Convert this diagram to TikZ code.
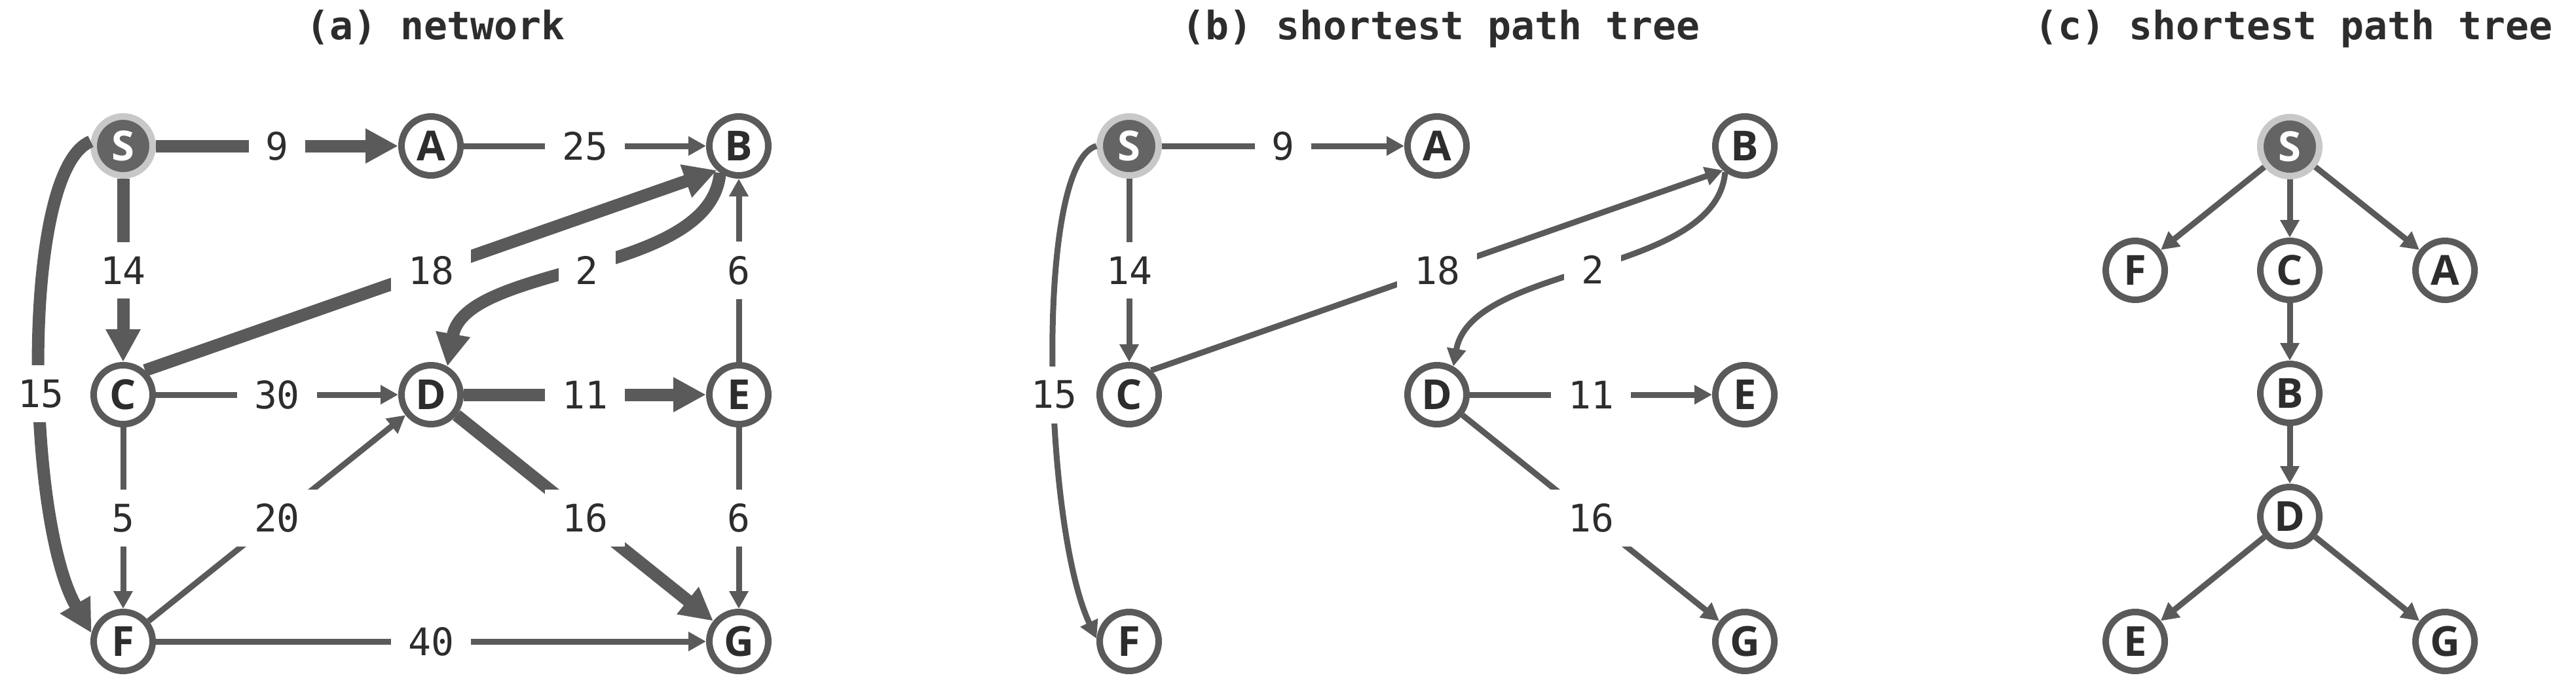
\documentclass[tikz,border=0pt]{standalone}
\usepackage{fontspec}
\usetikzlibrary{arrows.meta}
\newfontfamily\monofont{DejaVu Sans Mono}
\newfontfamily\letterfont{Open Sans}
\definecolor{edgegray}{RGB}{90,90,90}
\definecolor{ringgray}{RGB}{200,200,200}
\definecolor{srcgray}{RGB}{100,100,100}
\definecolor{inkgray}{RGB}{45,45,45}
\newcommand{\wfont}{\monofont\fontsize{16.5}{18}\selectfont}
\newcommand{\tfont}{\monofont\bfseries\fontsize{17}{20}\selectfont}
\newcommand{\vfont}{\letterfont\bfseries\fontsize{18}{20}\selectfont}

\begin{document}
\begin{tikzpicture}[
    vertex/.style={circle, draw=edgegray, line width=1mm, fill=white, minimum size=9mm, inner sep=0pt, font=\vfont, text=inkgray},
    source/.style={vertex, draw=ringgray, fill=srcgray, text=white},
    link/.style={edgegray, line width=0.9mm, -{Triangle[length=2.7mm, width=2.8mm]}},
    treelink/.style={edgegray, line width=1.9mm, -{Triangle[length=5mm, width=5mm]}},
    weight/.style={fill=white, inner xsep=2.6mm, inner ysep=2.2mm, font=\wfont, text=inkgray},
    caption/.style={font=\tfont, text=inkgray, anchor=base}
]
    \useasboundingbox (0,0) rectangle (39.33,-10.45);

    % Titles
    \node[caption] (ta) at (6.65,-0.60) {(a) network};
    \node[caption] (tb) at (22.00,-0.60) {(b) shortest path tree};
    \node[caption] (tc) at (35.02,-0.60) {(c) shortest path tree};

    % (a) the network
    \node[source] (S) at (1.88,-2.23) {S};
    \node[vertex] (A) at (6.58,-2.23) {A};
    \node[vertex] (B) at (11.28,-2.23) {B};
    \node[vertex] (C) at (1.88,-6.03) {C};
    \node[vertex] (D) at (6.58,-6.03) {D};
    \node[vertex] (E) at (11.28,-6.03) {E};
    \node[vertex] (F) at (1.88,-9.80) {F};
    \node[vertex] (G) at (11.28,-9.80) {G};

    \draw[treelink] (S) -- (A) node[weight, midway] {9};
    \draw[link] (A) -- (B) node[weight, midway] {25};
    \draw[treelink] (S) -- (C) node[weight, midway] {14};
    \draw[treelink] (B.-125) .. controls +(-95:1.6) and +(80:1.6) .. (D.60) node[weight, midway] {2};
    \draw[treelink] (C.48) -- (B.-132) node[weight, midway] {18};
    \draw[link] (E) -- (B) node[weight, midway] {6};
    \draw[treelink] (S.172) .. controls +(-1.08,-0.44) and +(-1.0,1.73) .. (F.165) node[weight, pos=0.56] {15};
    \draw[link] (C) -- (D) node[weight, midway] {30};
    \draw[treelink] (D) -- (E) node[weight, midway] {11};
    \draw[link] (C) -- (F) node[weight, midway] {5};
    \draw[link] (F) -- (D) node[weight, midway] {20};
    \draw[treelink] (D) -- (G) node[weight, midway] {16};
    \draw[link] (E) -- (G) node[weight, midway] {6};
    \draw[link] (F) -- (G) node[weight, midway] {40};

    % (b) shortest path tree, same layout
    \node[source] (bS) at (17.24,-2.23) {S};
    \node[vertex] (bA) at (21.94,-2.23) {A};
    \node[vertex] (bB) at (26.64,-2.23) {B};
    \node[vertex] (bC) at (17.24,-6.03) {C};
    \node[vertex] (bD) at (21.94,-6.03) {D};
    \node[vertex] (bE) at (26.64,-6.03) {E};
    \node[vertex] (bF) at (17.24,-9.80) {F};
    \node[vertex] (bG) at (26.64,-9.80) {G};

    \draw[link] (bS) -- (bA) node[weight, midway] {9};
    \draw[link] (bS) -- (bC) node[weight, midway] {14};
    \draw[link] (bS.180) .. controls +(-0.94,-0.27) and +(-0.82,1.75) .. (bF.175) node[weight, pos=0.56] {15};
    \draw[link] (bB.-127) .. controls +(-95:1.6) and +(80:1.6) .. (bD.60) node[weight, midway] {2};
    \draw[link] (bC.48) -- (bB.-132) node[weight, midway] {18};
    \draw[link] (bD) -- (bE) node[weight, midway] {11};
    \draw[link] (bD) -- (bG) node[weight, midway] {16};

    % (c) shortest path tree, drawn as a tree
    \node[source] (cS) at (34.96,-2.24) {S};
    \node[vertex] (cF) at (32.60,-4.13) {F};
    \node[vertex] (cC) at (34.96,-4.13) {C};
    \node[vertex] (cA) at (37.33,-4.13) {A};
    \node[vertex] (cB) at (34.96,-6.01) {B};
    \node[vertex] (cD) at (34.96,-7.89) {D};
    \node[vertex] (cE) at (32.60,-9.80) {E};
    \node[vertex] (cG) at (37.33,-9.80) {G};

    \draw[link] (cS) -- (cF);
    \draw[link] (cS) -- (cC);
    \draw[link] (cS) -- (cA);
    \draw[link] (cC) -- (cB);
    \draw[link] (cB) -- (cD);
    \draw[link] (cD) -- (cE);
    \draw[link] (cD) -- (cG);
\end{tikzpicture}
\end{document}
